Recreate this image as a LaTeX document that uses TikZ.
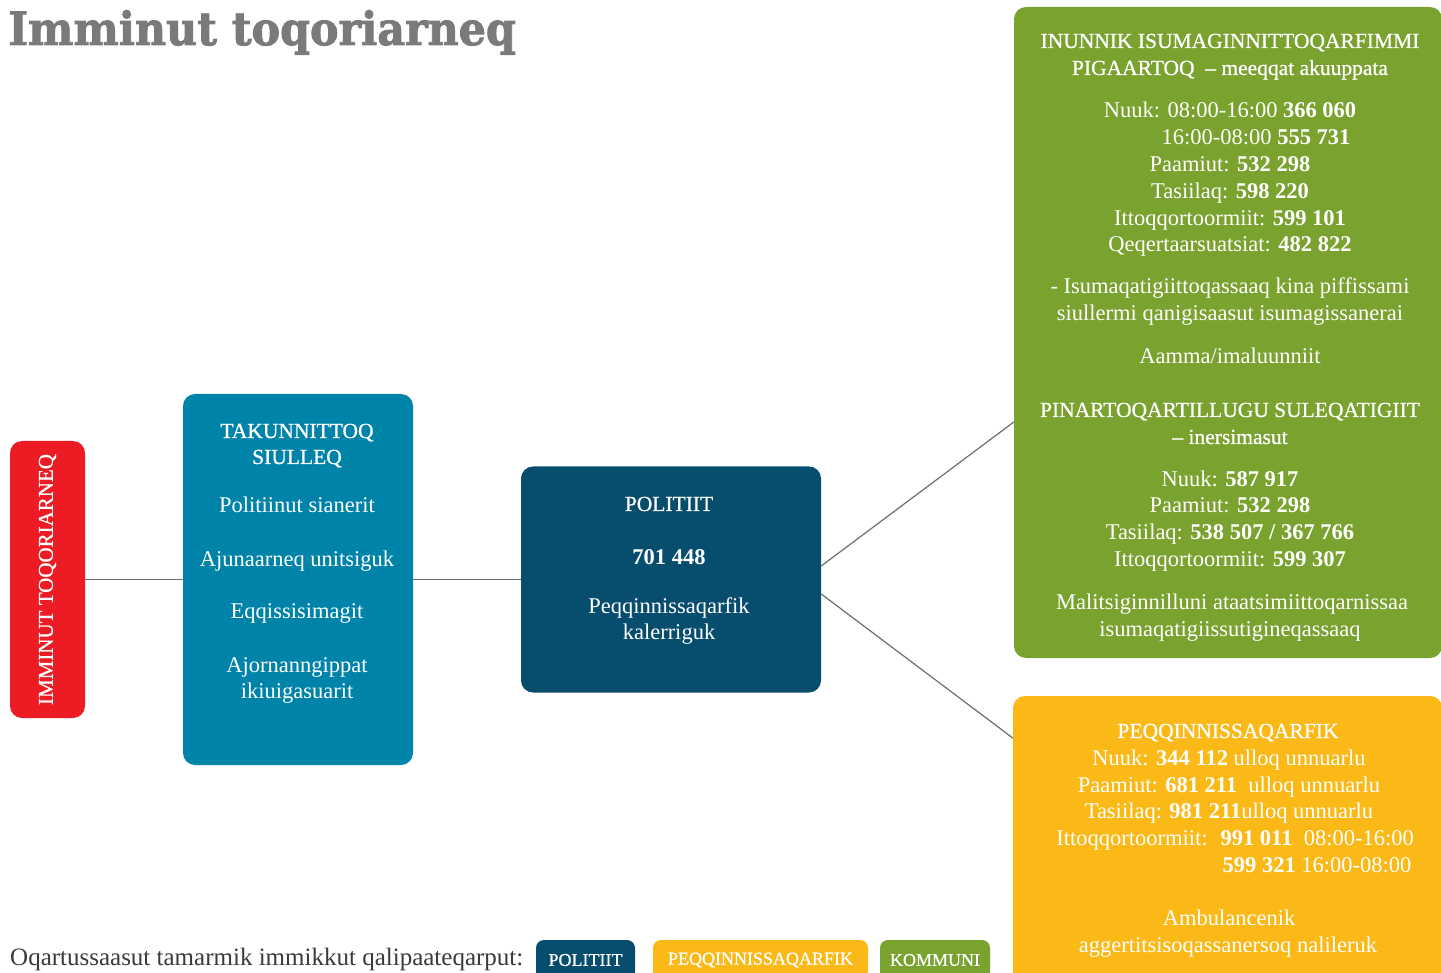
\documentclass[tikz,border=0pt]{standalone}
\usepackage{fontspec}
\setmainfont{Liberation Serif}
\newfontface\titlefont{DejaVu Serif Bold}[FakeBold=2]
\newfontface\headfont{Liberation Serif}[FakeBold=0.8]
\usetikzlibrary{positioning,calc}

\definecolor{redbox}{HTML}{ED1C24}
\definecolor{bluebox}{HTML}{0083A9}
\definecolor{policebox}{HTML}{064D6E}
\definecolor{greenbox}{HTML}{79A22F}
\definecolor{yellowbox}{HTML}{FBB917}
\definecolor{titlegray}{HTML}{7A7A7C}
\definecolor{linegray}{HTML}{6D6E70}
\definecolor{legendgray}{HTML}{3A3A3C}

\newcommand{\hd}[1]{{\headfont\fontsize{21.5}{26}\selectfont #1}}
\newcommand{\nr}[1]{\textbf{#1}}

\tikzset{
  box/.style={rounded corners=12pt, inner sep=0pt},
  txt/.style={text=white, anchor=base, inner sep=0pt, font=\fontsize{22.5}{27}\selectfont},
  badge/.style={rounded corners=8pt, text=white, inner sep=0pt, minimum height=40pt, font=\headfont\fontsize{18}{20}\selectfont},
  link/.style={draw=linegray, line width=1.2pt}
}

\begin{document}
\begin{tikzpicture}[x=1pt,y=-1pt]
\clip (0,0) rectangle (1441,973);
\fill[white] (0,0) rectangle (1441,973);

% title
\node[anchor=base west, inner sep=0pt, text=titlegray, font=\titlefont\fontsize{46}{50}\selectfont, xscale=0.93] (title) at (8,45) {Imminut toqoriarneq};

% boxes
\node[box, fill=redbox, minimum width=75pt, minimum height=277pt] (start) at (47.5,579.5) {};
\node[box, fill=bluebox, minimum width=230pt, minimum height=371pt] (first) at (298,579.5) {};
\node[box, fill=policebox, minimum width=300pt, minimum height=226pt] (police) at (671,579.5) {};
\node[box, fill=greenbox, minimum width=428pt, minimum height=651pt] (municip) at (1228,332.5) {};
\node[box, fill=yellowbox, minimum width=429pt, minimum height=304pt] (health) at (1227.5,848) {};

% connectors
\draw[link] (start.east) -- (first.west);
\draw[link] (first.east) -- (police.west);
\draw[link] ([yshift=13.5pt]police.east) -- ([yshift=-89.5pt]municip.west);
\draw[link] ([yshift=-14.5pt]police.east) -- ([yshift=110pt]health.west);

% red box
\node[rotate=90, text=white, inner sep=0pt, font=\headfont\fontsize{21}{25}\selectfont] (startlbl) at (start) {IMMINUT TOQORIARNEQ};

% blue box
\foreach \yy/\txt [count=\i] in {438/\hd{TAKUNNITTOQ}, 464/\hd{SIULLEQ},
    512/Politiinut sianerit, 566/Ajunaarneq unitsiguk, 618/Eqqissisimagit,
    672/Ajornanngippat, 698/ikiuigasuarit}
  \node[txt] (first\i) at (297,\yy) {\txt};

% police box
\foreach \yy/\txt [count=\i] in {511/\hd{POLITIIT}, 564/\nr{701 448},
    613/Peqqinnissaqarfik, 639/kalerriguk}
  \node[txt] (police\i) at (669,\yy) {\txt};

% green box
\foreach \xx/\yy/\txt [count=\i] in {
    1230/48/\hd{INUNNIK ISUMAGINNITTOQARFIMMI},
    1230/75/\hd{PIGAARTOQ \ – meeqqat akuuppata},
    1230/118/Nuuk: 08:00-16:00 \nr{366 060},
    1256/145/16:00-08:00 \nr{555 731},
    1230/172/Paamiut: \nr{532 298},
    1230/199/Tasiilaq: \nr{598 220},
    1230/226/Ittoqqortoormiit: \nr{599 101},
    1230/252/Qeqertaarsuatsiat: \nr{482 822},
    1230/294/- Isumaqatigiittoqassaaq kina piffissami,
    1230/321/siullermi qanigisaasut isumagissanerai,
    1230/364/{Aamma/imaluunniit},
    1230/417/\hd{PINARTOQARTILLUGU SULEQATIGIIT},
    1230/444/\hd{– inersimasut},
    1230/486/Nuuk: \nr{587 917},
    1230/512/Paamiut: \nr{532 298},
    1230/539/Tasiilaq: \nr{{538 507 / 367 766}},
    1230/566/Ittoqqortoormiit: \nr{599 307},
    1232/609/Malitsiginnilluni ataatsimiittoqarnissaa,
    1230/636/isumaqatigiissutigineqassaaq}
  \node[txt] (municip\i) at (\xx,\yy) {\txt};

% yellow box
\foreach \xx/\yy/\txt [count=\i] in {
    1228/738/\hd{PEQQINNISSAQARFIK},
    1229/765/Nuuk: \nr{344 112} ulloq unnuarlu,
    1229/792/Paamiut: \nr{681 211} \ ulloq unnuarlu,
    1229/818/Tasiilaq: \nr{981 211}ulloq unnuarlu,
    1235/845/Ittoqqortoormiit: \ \nr{991 011} \ 08:00-16:00,
    1317/872/\nr{599 321} 16:00-08:00,
    1229/925/Ambulancenik,
    1228/952/aggertitsisoqassanersoq nalileruk}
  \node[txt] (health\i) at (\xx,\yy) {\txt};

% legend
\node[anchor=base west, inner sep=0pt, text=legendgray, font=\fontsize{25}{29}\selectfont] (legend) at (10,965) {Oqartussaasut tamarmik immikkut qalipaateqarput:};
\node[badge, fill=policebox, minimum width=99pt] (keypolice) at (585.5,960) {POLITIIT};
\node[badge, fill=yellowbox, minimum width=215pt] (keyhealth) at (760.5,960) {PEQQINNISSAQARFIK};
\node[badge, fill=greenbox, minimum width=110pt] (keymunicip) at (935,960) {KOMMUNI};

\end{tikzpicture}
\end{document}
